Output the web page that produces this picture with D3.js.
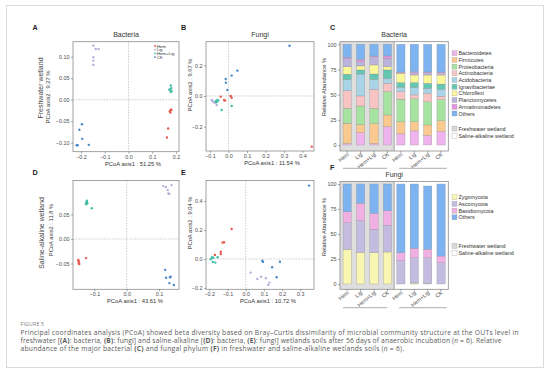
<!DOCTYPE html>
<html><head><meta charset="utf-8">
<script src="https://cdn.jsdelivr.net/npm/d3@7"></script>
<style>body{margin:0;background:#fff}text{font-family:"Liberation Sans",Arial,sans-serif}</style>
</head><body><svg id="c" width="554" height="373"></svg>
<script>
// ---------------- DATA ----------------
const pcoaGroups = ["Hem","Lig","Hem+Lig","CK"];
const groupColors = ["#E8574F","#B7AFD9","#41BCA4","#4A88C7"];

// A: bacteria, freshwater
const A_Hem    = [[0.178,-0.023],[0.176,-0.030],[0.181,-0.024],[0.174,-0.027],[0.167,-0.067],[0.162,-0.088]];
const A_Lig    = [[-0.148,0.126],[-0.138,0.118],[-0.126,0.118],[-0.148,0.099],[-0.148,0.091],[-0.148,0.081]];
const A_HemLig = [[0.178,0.033],[0.180,0.027],[0.172,0.023],[0.182,0.020],[0.178,0.018],[0.175,0.024]];
const A_CK     = [[-0.196,-0.057],[-0.207,-0.070],[-0.195,-0.091],[-0.214,-0.106],[-0.167,-0.105],[-0.218,-0.106]];
// B: fungi, freshwater
const B_Hem    = [[0.450,-0.330],[-0.042,-0.004],[-0.024,-0.026],[-0.018,-0.030],[0.012,0.000],[0.017,-0.011]];
const B_Lig    = [[-0.091,-0.026],[-0.082,-0.037],[-0.075,-0.044],[-0.064,-0.059],[-0.088,-0.030],[-0.070,-0.040]];
const B_HemLig = [[-0.068,-0.033],[-0.060,-0.026],[-0.037,-0.091],[0.017,-0.065],[-0.055,-0.030],[-0.065,-0.040]];
const B_CK     = [[0.330,0.327],[0.048,0.165],[0.017,0.133],[-0.015,0.111],[-0.014,0.087],[-0.006,0.039]];
// D: bacteria, saline-alkaline
const D_Hem    = [[-0.150,-0.043],[-0.148,-0.048],[-0.147,-0.051],[-0.149,-0.045],[-0.148,-0.050],[-0.126,-0.039]];
const D_Lig    = [[0.113,0.108],[0.121,0.106],[0.139,0.110],[0.127,0.100],[0.129,0.093],[0.132,0.092]];
const D_HemLig = [[-0.124,0.076],[-0.122,0.073],[-0.126,0.071],[-0.123,0.078],[-0.125,0.074],[-0.108,0.063]];
const D_CK     = [[0.119,-0.063],[0.122,-0.079],[0.136,-0.077],[0.134,-0.078],[0.132,-0.090],[0.146,-0.094]];
// E: fungi, saline-alkaline
const E_Hem    = [[-0.077,0.207],[-0.119,0.115],[-0.127,0.113],[-0.137,0.050],[-0.137,0.034],[-0.169,0.028]];
const E_Lig    = [[0.027,-0.094],[0.064,-0.138],[0.084,-0.122],[0.111,-0.133],[0.130,-0.163],[0.124,-0.179]];
const E_HemLig = [[-0.192,-0.002],[-0.178,0.009],[-0.180,-0.020],[-0.167,-0.025],[-0.154,0.012],[-0.185,0.012]];
const E_CK     = [[0.348,0.506],[0.091,-0.012],[0.095,-0.020],[0.188,-0.019],[0.145,-0.057],[0.170,-0.126]];

// C / F: relative abundance (%), 4 freshwater then 4 saline-alkaline
const barCategories = ["Hem","Lig","Hem+Lig","CK","Hem","Lig","Hem+Lig","CK"];
const bacteriaPhyla = ["Bacteroidetes","Firmicutes","Proteobacteria","Actinobacteria","Acidobacteria","Ignavibacteriae","Chloroflexi","Planctomycetes","Armatimonadetes","Others"];
const bacteriaColors = ["#EFB3EE","#F9C98F","#A6E3A0","#F8C3C3","#A9D3E6","#63C7B2","#FAF79B","#BBB3DB","#E593E3","#7DB3F0"];
const Bacteroidetes   = [1.5, 12.3, 1.5, 18.2, 11.0, 14.0, 9.6, 13.5];
const Firmicutes      = [20.0, 7.7, 19.5, 11.6, 12.0, 9.0, 10.3, 10.5];
const Proteobacteria  = [15.0, 18.7, 15.4, 23.1, 22.5, 23.0, 23.1, 21.0];
const Actinobacteria  = [17.5, 10.0, 18.9, 8.4, 7.5, 3.7, 8.3, 3.5];
const Acidobacteria   = [11.0, 21.8, 9.9, 4.9, 4.5, 7.6, 5.0, 7.0];
const Ignavibacteriae = [5.3, 4.0, 5.3, 8.3, 4.5, 4.7, 5.0, 5.0];
const Chloroflexi     = [7.3, 4.0, 9.0, 3.3, 9.2, 7.5, 8.2, 9.0];
const Planctomycetes  = [8.2, 4.3, 8.2, 8.2, 0.8, 2.4, 2.4, 2.4];
const Armatimonadetes = [1.1, 2.2, 0.7, 2.4, 0.5, 0.9, 0.6, 0.6];
const BacteriaOthers  = [13.1, 15.0, 11.6, 11.6, 27.5, 27.2, 27.5, 27.5];

const fungiPhyla = ["Zygomycota","Ascomycota","Basidiomycota","Others"];
const fungiColors = ["#F8F6B0","#C3BCE0","#F0B0E3","#7DB3F0"];
const Zygomycota    = [34.7, 31.7, 31.3, 32.0, 0.0, 1.0, 0.5, 0.0];
const Ascomycota    = [26.6, 31.6, 23.4, 26.7, 23.3, 25.3, 25.8, 21.3];
const Basidiomycota = [11.0, 17.4, 16.0, 14.6, 8.0, 9.4, 8.4, 6.7];
const FungiOthers   = [27.7, 19.3, 29.3, 26.7, 68.7, 64.3, 63.3, 72.0];

const abundanceTicks = [0,25,50,75,100];
const wetlandLegend = ["Freshwater wetland","Saline-alkaline wetland"];

// ---------------- DRAWING ----------------
const svg = d3.select("#c");
svg.append("rect").attr("x",6.5).attr("y",5.5).attr("width",537).attr("height",362)
  .attr("fill","#fff").attr("stroke","#dcdcdc").attr("stroke-width",1);

const TICK_FS = 5.4, TXT = "#4d4d4d";

function styleAxis(g){
  g.select(".domain").remove();
  g.selectAll(".tick line").attr("stroke","#555").attr("stroke-width",0.5);
  g.selectAll(".tick text").attr("fill",TXT).attr("font-size",TICK_FS).attr("font-family","Liberation Sans, Arial");
}

function pcoa(p){
  const x = d3.scaleLinear().domain(p.xd).range([p.x0,p.x1]);
  const y = d3.scaleLinear().domain(p.yd).range([p.y1,p.y0]);
  const g = svg.append("g");
  g.append("rect").attr("x",p.x0).attr("y",p.y0).attr("width",p.x1-p.x0).attr("height",p.y1-p.y0)
    .attr("fill","#fff").attr("stroke","#8c8c8c").attr("stroke-width",0.8);
  g.append("line").attr("x1",x(0)).attr("x2",x(0)).attr("y1",p.y0).attr("y2",p.y1)
    .attr("stroke","#b0b0b0").attr("stroke-width",0.6).attr("stroke-dasharray","1.6,1.2");
  g.append("line").attr("y1",y(0)).attr("y2",y(0)).attr("x1",p.x0).attr("x2",p.x1)
    .attr("stroke","#b0b0b0").attr("stroke-width",0.6).attr("stroke-dasharray","1.6,1.2");
  g.append("g").attr("transform",`translate(0,${p.y1})`)
    .call(d3.axisBottom(x).tickValues(p.xt).tickFormat(d3.format(p.xf)).tickSize(2).tickPadding(1.2))
    .call(styleAxis);
  g.append("g").attr("transform",`translate(${p.x0},0)`)
    .call(d3.axisLeft(y).tickValues(p.yt).tickFormat(d3.format(p.yf)).tickSize(2).tickPadding(1.5))
    .call(styleAxis);
  p.series.forEach((arr,i)=>{
    g.selectAll(null).data(arr).join("circle")
      .attr("cx",d=>x(d[0])).attr("cy",d=>y(d[1])).attr("r",1.2)
      .attr("fill",groupColors[i]);
  });
  if(p.title) g.append("text").attr("x",(p.x0+p.x1)/2).attr("y",p.y0-5).attr("text-anchor","middle")
    .attr("font-size",7).attr("fill","#333").text(p.title);
  g.append("text").attr("x",p.xlx).attr("y",p.y1+14).attr("text-anchor","middle")
    .attr("font-size",5.8).attr("fill","#333").text(p.xlab);
  g.append("text").attr("transform",`translate(${p.ylx},${p.yly}) rotate(-90)`).attr("text-anchor","middle")
    .attr("font-size",5.8).attr("fill","#333").text(p.ylab);
  if(p.rowlab) g.append("text").attr("transform",`translate(${p.rowx},${p.rowy}) rotate(-90)`).attr("text-anchor","middle")
    .attr("font-size",7).attr("fill","#444").text(p.rowlab);
  g.append("text").attr("x",p.lx).attr("y",p.ly).attr("font-size",7.2).attr("font-weight","bold").attr("fill","#222").text(p.letter);
  if(p.legend){
    pcoaGroups.forEach((name,i)=>{
      const yy = p.y0+4.3+i*3.7;
      g.append("circle").attr("cx",p.x1-24).attr("cy",yy).attr("r",0.9).attr("fill",groupColors[i]);
      g.append("text").attr("x",p.x1-22.3).attr("y",yy+1.5).attr("font-size",4.4).attr("fill","#333").text(name);
    });
  }
}

pcoa({x0:73,x1:179,y0:41.7,y1:151.7, xd:[-0.2337,0.2126], yd:[-0.1209,0.1349],
  xt:[-0.2,-0.1,0,0.1,0.2], xf:".1f", yt:[-0.1,-0.05,0,0.05,0.1], yf:".2f",
  series:[A_Hem,A_Lig,A_HemLig,A_CK], title:"Bacteria", xlab:"PCoA axis1 : 51.25 %", xlx:133,
  ylab:"PCoA axis2 : 9.27 %", ylx:50, yly:97, rowlab:"Freshwater wetland", rowx:43, rowy:88,
  letter:"A", lx:32.5, ly:30, legend:true});
pcoa({x0:206,x1:314,y0:41.7,y1:151, xd:[-0.1216,0.462], yd:[-0.3583,0.3537],
  xt:[-0.1,0,0.1,0.2,0.3,0.4], xf:".1f", yt:[-0.2,0,0.2], yf:".1f",
  series:[B_Hem,B_Lig,B_HemLig,B_CK], title:"Fungi", xlab:"PCoA axis1 : 11.54 %", xlx:272,
  ylab:"PCoA axis2 : 9.67 %", ylx:192, yly:85, letter:"B", lx:181, ly:30});
pcoa({x0:73,x1:179,y0:180.5,y1:289.3, xd:[-0.1663,0.1619], yd:[-0.1027,0.1194],
  xt:[-0.1,0,0.1], xf:".1f", yt:[-0.05,0,0.05], yf:".2f",
  series:[D_Hem,D_Lig,D_HemLig,D_CK], xlab:"PCoA axis1 : 43.61 %", xlx:135,
  ylab:"PCoA axis2 : 11.8 %", ylx:53, yly:230, rowlab:"Saline-alkaline wetland", rowx:44, rowy:233,
  letter:"D", lx:32.5, ly:174.5});
pcoa({x0:206,x1:314,y0:180.5,y1:289.3, xd:[-0.218,0.375], yd:[-0.209,0.541],
  xt:[-0.2,-0.1,0,0.1,0.2,0.3], xf:".1f", yt:[-0.2,0,0.2,0.4], yf:".1f",
  series:[E_Hem,E_Lig,E_HemLig,E_CK], xlab:"PCoA axis1 : 10.72 %", xlx:268,
  ylab:"PCoA axis2 : 9.04 %", ylx:192, yly:223, letter:"E", lx:181, ly:174.5});

function bars(p){
  const x = d3.scaleBand().domain(d3.range(barCategories.length)).range([p.x0+0.5,p.x1-0.5]).paddingInner(0.38).paddingOuter(0.19);
  const y = d3.scaleLinear().domain([0,100]).range([p.yb,p.yt]);
  const g = svg.append("g");
  g.append("rect").attr("x",p.x0).attr("y",p.y0).attr("width",p.x1-p.x0).attr("height",p.y1-p.y0).attr("fill","#fff");
  const mid = (x(3)+x.bandwidth()+x(4))/2;
  g.append("rect").attr("x",p.x0).attr("y",p.y0).attr("width",mid-p.x0).attr("height",p.y1-p.y0).attr("fill","#dedede");
  const table = barCategories.map((c,i)=>{ const o={i}; p.names.forEach((n,k)=>o[n]=p.values[k][i]); return o; });
  const series = d3.stack().keys(p.names)(table);
  series.forEach((s,k)=>{
    g.selectAll(null).data(s).join("rect")
      .attr("x",d=>x(d.data.i)).attr("width",x.bandwidth())
      .attr("y",d=>y(d[1])).attr("height",d=>Math.max(0,y(d[0])-y(d[1])))
      .attr("fill",p.colors[k]).attr("stroke","#8a8a8a").attr("stroke-width",0.3);
  });
  g.append("line").attr("x1",mid).attr("x2",mid).attr("y1",p.y0).attr("y2",p.y1).attr("stroke","#8c8c8c").attr("stroke-width",0.8);
  g.append("rect").attr("x",p.x0).attr("y",p.y0).attr("width",p.x1-p.x0).attr("height",p.y1-p.y0)
    .attr("fill","none").attr("stroke","#8c8c8c").attr("stroke-width",0.8);
  g.append("g").attr("transform",`translate(${p.x0},0)`)
    .call(d3.axisLeft(y).tickValues(abundanceTicks).tickSize(2).tickPadding(1.5)).call(styleAxis);
  barCategories.forEach((c,i)=>{
    const cx = x(i)+x.bandwidth()/2+2;
    g.append("line").attr("x1",x(i)+x.bandwidth()/2).attr("x2",x(i)+x.bandwidth()/2).attr("y1",p.y1).attr("y2",p.y1+2).attr("stroke","#555").attr("stroke-width",0.5);
    g.append("text").attr("transform",`translate(${cx},${p.y1+4}) rotate(-40)`).attr("text-anchor","end")
      .attr("font-size",TICK_FS).attr("fill",TXT).text(c);
  });
  g.append("text").attr("x",(p.x0+p.x1)/2).attr("y",p.y0-5).attr("text-anchor","middle").attr("font-size",7).attr("fill","#333").text(p.title);
  g.append("text").attr("transform",`translate(${p.x0-14},${p.ylaby}) rotate(-90)`).attr("text-anchor","middle")
    .attr("font-size",5.8).attr("fill","#333").text("Relative Abundance %");
  g.append("text").attr("x",p.x0-10).attr("y",p.y0-12).attr("font-size",7.2).attr("font-weight","bold").attr("fill","#222").text(p.letter);
  // group underlines
  g.append("line").attr("x1",p.x0+3).attr("x2",mid-7).attr("y1",p.gl).attr("y2",p.gl).attr("stroke","#bdbdbd").attr("stroke-width",1.3);
  g.append("line").attr("x1",mid+5).attr("x2",p.x1-1.5).attr("y1",p.gl).attr("y2",p.gl).attr("stroke","#bdbdbd").attr("stroke-width",1.3);
  // legend
  p.names.forEach((n,k)=>{
    const yy = p.legy + k*6.7;
    g.append("rect").attr("x",452).attr("y",yy-2.6).attr("width",5).attr("height",5).attr("fill",p.colors[k]).attr("stroke","#999").attr("stroke-width",0.3);
    g.append("text").attr("x",458.5).attr("y",yy+1.9).attr("font-size",5.4).attr("fill","#333").text(n);
  });
  wetlandLegend.forEach((n,k)=>{
    const yy = p.wy + k*7.3;
    g.append("rect").attr("x",452).attr("y",yy-2.6).attr("width",5).attr("height",5).attr("fill",k?"#fff":"#d9d9d9").attr("stroke","#aaa").attr("stroke-width",0.4);
    g.append("text").attr("x",458.5).attr("y",yy+1.9).attr("font-size",5.4).attr("fill","#333").text(n);
  });
}

bars({x0:340,x1:448.3,y0:41.7,y1:151,yt:44.3,yb:145, names:bacteriaPhyla, colors:bacteriaColors,
  values:[Bacteroidetes,Firmicutes,Proteobacteria,Actinobacteria,Acidobacteria,Ignavibacteriae,Chloroflexi,Planctomycetes,Armatimonadetes,BacteriaOthers],
  title:"Bacteria", letter:"C", ylaby:87, gl:168.3, legy:53.3, wy:128.7});
bars({x0:340,x1:448.3,y0:181.5,y1:289.3,yt:184,yb:284, names:fungiPhyla, colors:fungiColors,
  values:[Zygomycota,Ascomycota,Basidiomycota,FungiOthers],
  title:"Fungi", letter:"F", ylaby:227, gl:307.7, legy:197.3, wy:246});

// caption
const cap = svg.append("g");
cap.append("text").attr("x",20.5).attr("y",325.5).attr("font-size",5.2).attr("fill","#808080").attr("letter-spacing",0.2)
  .style("font-family","Open Sans").text("FIGURE 5");
const lines = [
  {y:334.8, w:498, parts:[["Principal coordinates analysis (PCoA) showed beta diversity based on Bray–Curtis dissimilarity of microbial community structure at the OUTs level in",""]]},
  {y:343, w:481, parts:[["freshwater [",""],["(A)","b"],[": bacteria, ",""],["(B)","b"],[": fungi] and saline-alkaline [",""],["(D)","b"],[": bacteria, ",""],["(E)","b"],[": fungi] wetlands soils after 56 days of anaerobic incubation (",""],["n","i"],[" = 6). Relative",""]]},
  {y:351.2, w:383.5, parts:[["abundance of the major bacterial ",""],["(C)","b"],[" and fungal phylum ",""],["(F)","b"],[" in freshwater and saline-alkaline wetlands soils (",""],["n","i"],[" = 6).",""]]}
];
lines.forEach(L=>{
  const t = cap.append("text").attr("x",20.5).attr("y",L.y).attr("font-size",6.7).attr("fill","#595959")
    .style("font-family","Open Sans").attr("textLength",L.w).attr("lengthAdjust","spacing");
  L.parts.forEach(([s,f])=>{
    const ts = t.append("tspan").text(s);
    if(f==="b") ts.attr("font-weight","bold");
    if(f==="i") ts.attr("font-style","italic");
  });
});
</script></body></html>
